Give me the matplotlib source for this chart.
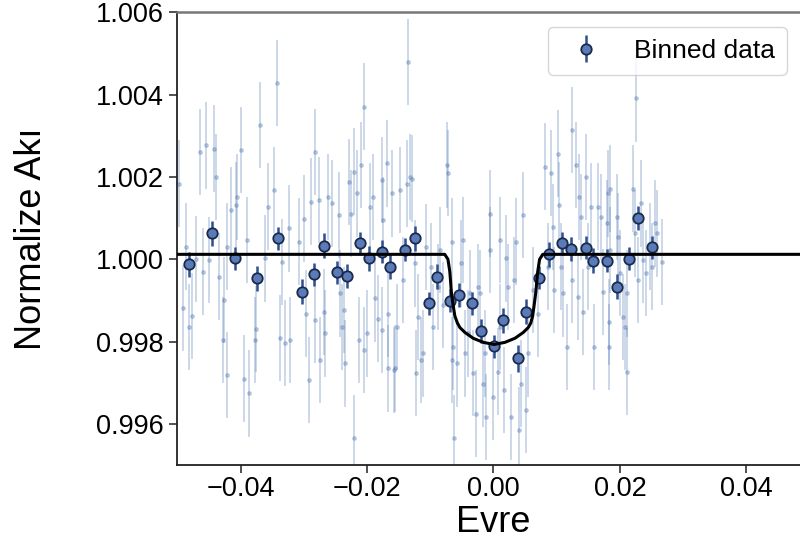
import matplotlib
matplotlib.use("Agg")
import matplotlib.pyplot as plt

plt.rcParams['font.family'] = ['Liberation Sans', 'DejaVu Sans']

# unbinned phase/flux points
raw_phase = [-0.0497, -0.0464, -0.0455, -0.0442, -0.0439, -0.0400, -0.0369, -0.0343, -0.0415, -0.0407,
             -0.0405, -0.0357, -0.0347, -0.0390, -0.0450, -0.0460, -0.0434, -0.0426, -0.0491, -0.0477,
             -0.0481, -0.0428, -0.0421, -0.0394, -0.0386, -0.0375, -0.0377, -0.0362, -0.0334, -0.0338,
             -0.0330, -0.0471, -0.0486, -0.0421,
             -0.0324, -0.0308, -0.0300, -0.0321, -0.0297, -0.0291, -0.0282, -0.0289, -0.0276, -0.0283,
             -0.0274, -0.0266, -0.0261, -0.0255, -0.0268, -0.0245, -0.0242, -0.0237, -0.0234, -0.0239,
             -0.0229, -0.0226, -0.0221, -0.0216, -0.0209, -0.0204, -0.0221, -0.0213, -0.0205, -0.0200,
             -0.0195, -0.0191, -0.0187, -0.0176, -0.0175, -0.0168, -0.0176, -0.0166, -0.0161, -0.0166,
             -0.0158, -0.0182,
             -0.0135, -0.0148, -0.0137, -0.0132, -0.0129, -0.0153, -0.0156, -0.0122, -0.0111, -0.0119,
             -0.0114, -0.0143, -0.0124, -0.0106, -0.0098, -0.0095, -0.0085, -0.0074, -0.0072, -0.0066,
             -0.0064, -0.0066, -0.0058, -0.0063, -0.0051, -0.0048, -0.0045, -0.0040, -0.0032, -0.0027,
             -0.0024, -0.0022, -0.0014, -0.0011, -0.0005, -0.0006, -0.0001, 0.0007, 0.0010, 0.0010,
             -0.0087, -0.0080, -0.0037, -0.0016,
             0.0020, 0.0023, 0.0033, 0.0036, 0.0046, 0.0017, 0.0028, 0.0041, 0.0052, 0.0044,
             0.0054, 0.0070, 0.0062, 0.0081, 0.0091, 0.0102, 0.0104, 0.0094, 0.0086, 0.0096,
             0.0110, 0.0117, 0.0125, 0.0130, 0.0136, 0.0138, 0.0146, 0.0150, 0.0154, 0.0159,
             0.0165, 0.0170, 0.0125, 0.0141, 0.0173, 0.0181, 0.0107, 0.0133,
             0.0184, 0.0179, 0.0184, 0.0182, 0.0182, 0.0195, 0.0197, 0.0200, 0.0205, 0.0208,
             0.0211, 0.0212, 0.0221, 0.0226, 0.0224, 0.0229, 0.0233, 0.0237, 0.0242, 0.0247,
             0.0255, 0.0258, 0.0266, 0.0250]
raw_flux = [1.00184, 1.00261, 1.00277, 1.00269, 1.00200, 1.00265, 1.00326, 1.00429, 1.00119, 1.00132,
            1.00152, 1.00128, 1.00168, 1.00047, 0.99998, 0.99970, 0.99958, 0.99901, 0.99881, 0.99862,
            0.99836, 0.99804, 0.99719, 0.99710, 0.99674, 0.99830, 0.99804, 1.00002, 0.99994, 0.99808,
            0.99796, 1.00000, 1.00031, 1.00031,
            1.00075, 1.00043, 1.00099, 0.99804, 0.99868, 0.99706, 1.00261, 1.00140, 1.00144, 0.99852,
            0.99755, 0.99820, 1.00152, 1.00136, 0.99872, 1.00107, 0.99917, 0.99876, 0.99747, 0.99836,
            1.00188, 1.00111, 1.00213, 1.00160, 1.00229, 1.00371, 0.99565, 0.99804, 0.99779, 0.99820,
            1.00128, 1.00152, 0.99905, 1.00192, 1.00095, 1.00233, 0.99828, 0.99868, 1.00160, 0.99735,
            0.99731, 0.99856,
            1.00480, 1.00168, 1.00184, 1.00200, 1.00196, 0.99836, 0.99735, 0.99723, 0.99771, 0.99860,
            0.99755, 0.99949, 0.99990, 1.00030, 0.99982, 0.99836, 1.00022, 1.00229, 1.00209, 1.00043,
            0.99787, 0.99755, 0.99747, 0.99565, 0.99990, 1.00047, 0.99771, 0.99820, 0.99723, 0.99625,
            0.99933, 0.99917, 0.99771, 0.99617, 1.00111, 1.00022, 0.99666, 0.99727, 1.00047, 0.99836,
            0.99933, 0.99889, 0.99917, 0.99698,
            1.00002, 0.99933, 0.99949, 1.00043, 1.00107, 0.99682, 0.99617, 0.99585, 0.99634, 0.99698,
            0.99771, 0.99868, 0.99925, 1.00225, 1.00209, 1.00257, 1.00132, 1.00079, 0.99982, 0.99925,
            0.99917, 0.99787, 1.00314, 1.00229, 1.00152, 1.00103, 1.00200, 0.99982, 1.00128, 0.99787,
            1.00128, 1.00103, 0.99949, 0.99872, 0.99921, 1.00160, 0.99982, 0.99909,
            1.00172, 1.00087, 1.00022, 0.99848, 0.99787, 1.00103, 1.00055, 0.99966, 0.99860, 0.99836,
            0.99917, 0.99727, 1.00172, 1.00391, 1.00063, 0.99949, 1.00136, 0.99998, 0.99966, 1.00031,
            1.00087, 1.00063, 0.99994, 0.99982]
raw_err = 0.00105

# binned points
bin_phase = [-0.04816, -0.04447, -0.04094, -0.03747, -0.03411, -0.03025, -0.02831, -0.02673, -0.02473,
             -0.02315, -0.02105, -0.01974, -0.01762, -0.01631, -0.01394, -0.01236, -0.01026, -0.00894,
             -0.00695, -0.00542, -0.00341, -0.00194, 0.00016, 0.00148, 0.00385, 0.00516, 0.00726,
             0.00884, 0.01090, 0.01232, 0.01459, 0.01579, 0.01800, 0.01948, 0.02138, 0.02285, 0.02511]
bin_flux = [0.99988, 1.00063, 1.00002, 0.99954, 1.00051, 0.99921, 0.99964, 1.00033, 0.99968,
            0.99959, 1.00039, 1.00002, 1.00018, 0.99982, 1.00023, 1.00051, 0.99893, 0.99958,
            0.99899, 0.99913, 0.99893, 0.99826, 0.99789, 0.99852, 0.99759, 0.99873, 0.99955,
            1.00012, 1.00039, 1.00025, 1.00028, 0.99997, 0.99997, 0.99933, 1.00001, 1.00100, 1.00029]
bin_err = [0.0003, 0.0003, 0.00028, 0.0003, 0.00028, 0.0003, 0.00028, 0.0003, 0.00028,
           0.0003, 0.00028, 0.0003, 0.00028, 0.0003, 0.00028, 0.0003, 0.00028, 0.0003,
           0.00028, 0.0003, 0.00028, 0.0003, 0.00028, 0.0003, 0.00032, 0.0003, 0.00028,
           0.0003, 0.00028, 0.0003, 0.00028, 0.0003, 0.00028, 0.0003, 0.00028, 0.0003, 0.00028]

# transit model curve
model_phase = [-0.05, -0.0077, -0.0072, -0.0069, -0.00665, -0.0064, -0.0061, -0.0057, -0.0053, -0.0045,
               -0.0032, -0.0016, 0.0001, 0.0018, 0.0034, 0.0047, 0.0055, 0.0059, 0.0062, 0.00645,
               0.0067, 0.0070, 0.0073, 0.0078, 0.07]
model_flux = [1.00012, 1.00012, 1.0000, 0.9997, 0.9992, 0.9989, 0.99862, 0.99845, 0.99834, 0.99822,
              0.99808, 0.99798, 0.99793, 0.99798, 0.99808, 0.99822, 0.99834, 0.99845, 0.99862, 0.9989,
              0.9992, 0.9997, 1.0000, 1.00012, 1.00012]

fig = plt.figure(figsize=(8, 5.5), dpi=100)
ax = fig.add_axes([177.3 / 800, 85 / 550, 632.3 / 800, 452.6 / 550])

ax.errorbar(raw_phase, raw_flux, yerr=raw_err, fmt='o', ms=2.5, color='#4c72b0',
            alpha=0.3, elinewidth=1.3, capsize=0, zorder=1)
ax.errorbar(bin_phase, bin_flux, yerr=bin_err, fmt='o', ms=7.5, mfc='#5a7ab8', mec='#1a2a4a',
            mew=1.3, ecolor='#2f4f8f', elinewidth=1.8, capsize=0, zorder=3, label='Binned data')
ax.plot(model_phase, model_flux, color='black', lw=2.2, zorder=4)

ax.set_xlim(-0.05, 0.05)
ax.set_ylim(0.995, 1.006)
ax.set_xticks([-0.04, -0.02, 0.00, 0.02, 0.04])
ax.set_xticklabels(['\u22120.04', '\u22120.02', '0.00', '0.02', '0.04'])
ax.set_yticks([0.996, 0.998, 1.000, 1.002, 1.004, 1.006])
ax.set_yticklabels(['0.996', '0.998', '1.000', '1.002', '1.004', '1.006'])
ax.tick_params(axis='both', which='major', labelsize=19.5, length=6, width=1.2, direction='out',
               color='#333333', top=False, right=False)
ax.tick_params(axis='x', pad=2)

ax.set_xlabel('Evre', fontsize=26, labelpad=2)
ax.set_ylabel('Normalize Akı', fontsize=26, labelpad=34)

for side in ['left', 'bottom']:
    ax.spines[side].set_color('#222222')
    ax.spines[side].set_linewidth(1.3)
ax.spines['top'].set_color('#777777')
ax.spines['top'].set_linewidth(1.8)
ax.spines['right'].set_visible(False)

leg = ax.legend(loc='upper left', bbox_to_anchor=(548 / 800, (550 - 27) / 550),
                bbox_transform=fig.transFigure, fontsize=19, frameon=True, fancybox=True,
                borderaxespad=0, borderpad=0.45)
leg.get_frame().set_edgecolor('#cccccc')
leg.get_frame().set_linewidth(1.0)

fig.savefig('out.png', dpi=100, facecolor='white')
